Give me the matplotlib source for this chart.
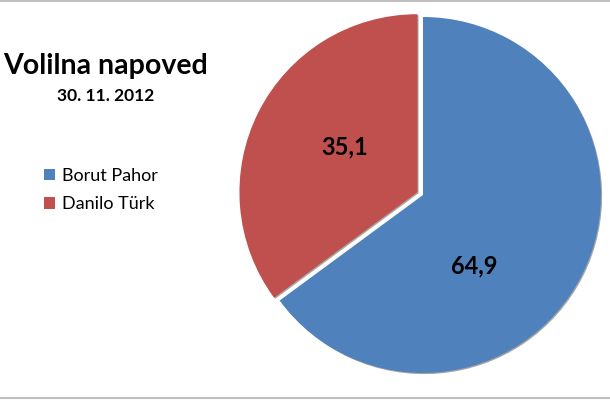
import matplotlib.pyplot as plt
import matplotlib.patheffects as pe
from matplotlib.lines import Line2D
from matplotlib.patches import Patch

plt.rcParams['font.family'] = ['Lato', 'DejaVu Sans']

candidates = ['Borut Pahor', 'Danilo Türk']
shares = [64.9, 35.1]
share_labels = ['64,9', '35,1']
colors = ['#4F81BD', '#C0504D']

title = 'Volilna napoved'
subtitle = '30. 11. 2012'


def main():
    fig = plt.figure(figsize=(6.1, 4.0), dpi=100)

    # pie axes: centre ~ (423, 195) px, radius ~ 178 px
    r_px = 178
    ax = fig.add_axes([(423 - r_px) / 610, (400 - 195 - r_px) / 400,
                       2 * r_px / 610, 2 * r_px / 400])
    wedges, _ = ax.pie(shares, colors=colors, startangle=90, counterclock=False,
                       explode=[0, 0.035], radius=1,
                       wedgeprops=dict(linewidth=0))
    for w in wedges:
        w.set_path_effects([pe.SimplePatchShadow(offset=(0.8, -0.8), shadow_rgbFace='black', alpha=0.35),
                            pe.Normal()])
    ax.set_xlim(-1, 1)
    ax.set_ylim(-1, 1)
    ax.set_aspect('equal')

    label_pos = [(0.29, -0.40), (-0.44, 0.27)]
    for (x, y), txt in zip(label_pos, share_labels):
        ax.text(x, y, txt, ha='center', va='center', fontsize=17, fontweight='bold', color='black')

    fig.text(106 / 610, 1 - 66 / 400, title, ha='center', va='center', fontsize=20.5, fontweight='bold')
    fig.text(106 / 610, 1 - 96 / 400, subtitle, ha='center', va='center', fontsize=12.5, fontweight='bold')

    handles = [Patch(facecolor=c, edgecolor='none') for c in colors]
    fig.legend(handles, candidates, loc='center left', bbox_to_anchor=(0.045, 1 - 190 / 400),
               frameon=False, fontsize=13, handlelength=0.6, handleheight=0.6,
               handletextpad=0.4, labelspacing=0.7)

    # thin grey lines at top and bottom of the frame
    for y in (0.998, 0.004):
        fig.add_artist(Line2D([0, 1], [y, y], transform=fig.transFigure, color='#BFBFBF', lw=1.5))

    fig.savefig('out.png', dpi=100, facecolor='white')


if __name__ == '__main__':
    main()
